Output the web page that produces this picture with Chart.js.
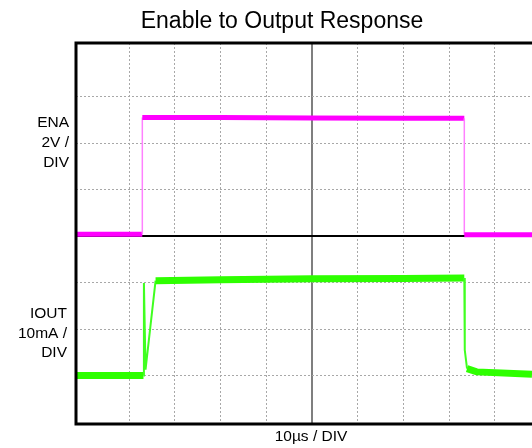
<!DOCTYPE html>
<html>
<head>
<meta charset="utf-8">
<script src="https://cdn.jsdelivr.net/npm/chart.js@4"></script>
<style>
  html, body { margin: 0; padding: 0; background: #fff; }
</style>
</head>
<body>
<canvas id="scope" width="532" height="448"></canvas>
<script>
// time axis in µs, 10 µs / div, 0 = centre graticule
const timeRange = [-51.6, 48.1];
const gridTimes = [-40, -30, -20, -10, 0, 10, 20, 30, 40];

// vertical graticule in divisions, 0 = centre line
const divRange = [-4.04, 4.15];
const gridDivs = [-3, -2, -1, 0, 1, 2, 3];

// ENA trace, volts (2 V / div, 0 V on centre line)
const enaTime = [-51.6, -37.1, -37.1, -20, 0, 20, 33.3, 33.3, 48.1];
const enaVolts = [0.08, 0.08, 5.1, 5.1, 5.08, 5.06, 5.06, 0.06, 0.06];

// IOUT trace, mA (10 mA / div, 0 mA three divisions below centre)
const ioutTime = [-51.6, -36.85, -36.75, -36.4, -34.2, -20, 0, 20, 33.3, 33.4, 33.9, 36, 48.1];
const ioutMilliamps = [0, 0, 19.9, 1.3, 20.4, 20.6, 20.8, 20.9, 21.0, 5.5, 1.5, 0.8, 0.3];

const enaPerDiv = 2;
const ioutPerDiv = 10;
const ioutZeroDiv = -3;

const toPoints = (xs, ys) => xs.map((x, i) => ({x: x, y: ys[i]}));
// fast edges are drawn thin and pale, like a scope with few samples on them
const isEdge = ctx => Math.abs(ctx.p1.parsed.x - ctx.p0.parsed.x) < 3 &&
                      Math.abs(ctx.p1.parsed.y - ctx.p0.parsed.y) > 3;

const frame = {
    id: 'frame',
    afterDatasetsDraw(chart) {
        const {ctx, chartArea: a} = chart;
        ctx.save();
        ctx.strokeStyle = '#000';
        ctx.lineWidth = 3;
        ctx.beginPath();
        ctx.moveTo(chart.width + 5, a.top);
        ctx.lineTo(a.left, a.top);
        ctx.lineTo(a.left, a.bottom);
        ctx.lineTo(chart.width + 5, a.bottom);
        ctx.stroke();
        ctx.restore();
    }
};

const labels = {
    id: 'labels',
    afterDraw(chart) {
        const ctx = chart.ctx;
        ctx.save();
        ctx.fillStyle = '#000';
        ctx.font = '23px "Liberation Sans", Arial, sans-serif';
        ctx.textAlign = 'center';
        ctx.fillText('Enable to Output Response', 282, 28);

        ctx.font = '15.5px "Liberation Sans", Arial, sans-serif';
        ctx.fillText('10µs / DIV', 311, 441);

        ctx.textAlign = 'right';
        ['ENA', '2V /', 'DIV'].forEach((t, i) => ctx.fillText(t, 69, 127 + i * 20));
        ['IOUT', '10mA /', 'DIV'].forEach((t, i) => ctx.fillText(t, 67, 318 + i * 19.5));
        ctx.restore();
    }
};

new Chart(document.getElementById('scope'), {
    type: 'line',
    data: {
        datasets: [
            {
                label: 'ENA',
                data: toPoints(enaTime, enaVolts),
                yAxisID: 'yEna',
                borderColor: '#ff00ff',
                borderWidth: 5,
                pointRadius: 0,
                segment: {
                    borderWidth: ctx => isEdge(ctx) ? 1.5 : 5,
                    borderColor: ctx => isEdge(ctx) ? '#ff80ff' : '#ff00ff'
                }
            },
            {
                label: 'IOUT',
                data: toPoints(ioutTime, ioutMilliamps),
                yAxisID: 'yIout',
                borderColor: '#2eff00',
                borderWidth: 7,
                pointRadius: 0,
                segment: {
                    borderWidth: ctx => isEdge(ctx) ? 2 : 7,
                    borderColor: ctx => isEdge(ctx) ? '#40ff20' : '#2eff00'
                }
            }
        ]
    },
    options: {
        responsive: false,
        animation: false,
        layout: {padding: {left: 76, top: 43, right: 0, bottom: 24}},
        plugins: {legend: {display: false}, tooltip: {enabled: false}},
        scales: {
            x: {
                type: 'linear',
                min: timeRange[0],
                max: timeRange[1],
                afterBuildTicks: scale => { scale.ticks = gridTimes.map(v => ({value: v})); },
                ticks: {display: false},
                border: {display: false, dash: ctx => ctx.tick && ctx.tick.value === 0 ? [] : [2, 2]},
                grid: {
                    drawTicks: false,
                    color: ctx => ctx.tick && ctx.tick.value === 0 ? '#7f7f7f' : '#a8a8a8',
                    lineWidth: ctx => ctx.tick && ctx.tick.value === 0 ? 2 : 1
                }
            },
            yEna: {
                type: 'linear',
                position: 'left',
                min: divRange[0] * enaPerDiv,
                max: divRange[1] * enaPerDiv,
                afterBuildTicks: scale => { scale.ticks = gridDivs.map(d => ({value: d * enaPerDiv})); },
                ticks: {display: false},
                border: {display: false, dash: ctx => ctx.tick && ctx.tick.value === 0 ? [] : [2, 2]},
                grid: {
                    drawTicks: false,
                    color: ctx => ctx.tick && ctx.tick.value === 0 ? '#000' : '#a8a8a8',
                    lineWidth: ctx => ctx.tick && ctx.tick.value === 0 ? 2 : 1
                }
            },
            yIout: {
                type: 'linear',
                display: false,
                min: (divRange[0] - ioutZeroDiv) * ioutPerDiv,
                max: (divRange[1] - ioutZeroDiv) * ioutPerDiv
            }
        }
    },
    plugins: [frame, labels]
});
</script>
</body>
</html>
